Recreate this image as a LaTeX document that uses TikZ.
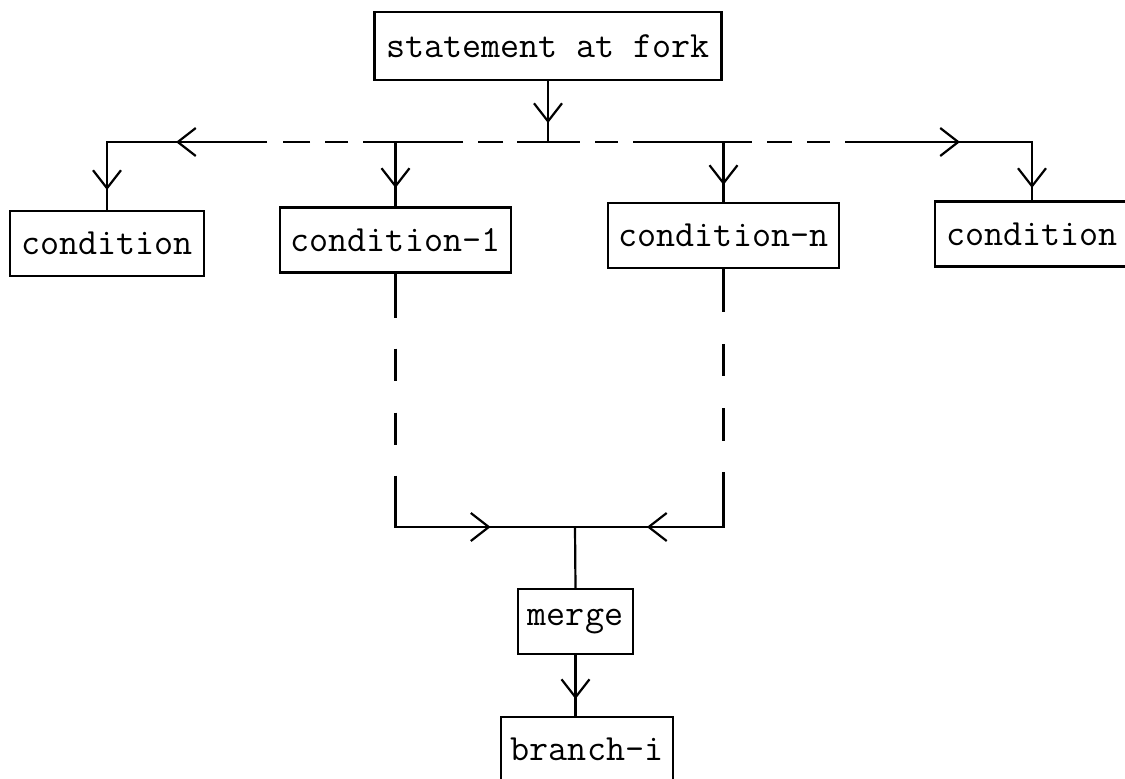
\documentclass[tikz,border=0pt]{standalone}
\usetikzlibrary{arrows.meta,decorations.markings}
\begin{document}
\begin{tikzpicture}[x=1pt,y=-1pt,
  line width=2.2pt,
  box/.style={draw, inner sep=0pt, minimum height=65pt,
    font=\fontsize{37}{41}\selectfont\ttfamily},
  barb/.tip={Straight Barb[length=18pt,width=28pt,line width=2.2pt]},
  barbat/.style={postaction={decorate,decoration={markings,
    mark=at position #1 with {\pgfsetdash{}{0pt}\arrow{barb}}}}},
  barbtwo/.style 2 args={postaction={decorate,decoration={markings,
    mark=at position #1 with {\pgfsetdash{}{0pt}\arrow{barb}},
    mark=at position #2 with {\pgfsetdash{}{0pt}\arrow{barb}}}}},
]
\fill[white] (0,0) rectangle (1125,779);
\useasboundingbox (0,0) rectangle (1125,779);

% boxes
\node[box, minimum width=347pt, minimum height=68pt] (stmt) at (548,46) {statement at fork};
\node[box, minimum width=194pt] (condL) at (107,243.5) {condition};
\node[box, minimum width=231pt] (cond1) at (395.5,240) {condition-1};
\node[box, minimum width=231pt] (condn) at (723.5,235.5) {condition-n};
\node[box, minimum width=194pt] (condR) at (1032,234) {condition};
\node[box, minimum width=115pt] (merge) at (575.5,621.5) {merge};
\node[box, minimum width=172pt] (branch) at (587,749.5) {branch-i};

% fork
\coordinate (fork) at (548,142);
\coordinate (j1) at (cond1.north |- fork);
\coordinate (jn) at (condn.north |- fork);
\draw[barbat=42pt] (stmt.south) -- (fork);
\draw[dash pattern=on 31pt off 14pt on 25pt off 15pt on 100pt off 15pt on 23pt off 15pt on 27pt off 16pt on 400pt off 1pt,
      barbtwo={372pt}{489pt}] (fork) -| (condL.north);
\draw[dash pattern=on 32pt off 15pt on 23pt off 15pt on 119pt off 15pt on 25pt off 15pt on 23pt off 15pt on 600pt off 1pt,
      barbtwo={412pt}{530pt}] (fork) -| (condR.north);
\draw[barbat=46pt] (j1) -- (cond1.north);
\draw[barbat=43pt] (jn) -- (condn.north);

% merge
\coordinate (join) at (575,527);
\draw[dash pattern=on 44pt off 31pt on 32pt off 32pt on 32pt off 31pt on 400pt off 1pt,
      barbat=348.5pt] (cond1.south) |- (join);
\draw[dash pattern=on 43pt off 32pt on 32pt off 32pt on 33pt off 31pt on 400pt off 1pt,
      barbat=334.5pt] (condn.south) |- (join);
\draw (join) -- (merge.north);
\draw[barbat=44pt] (merge.south) -- (merge.south |- branch.north);
\end{tikzpicture}
\end{document}
